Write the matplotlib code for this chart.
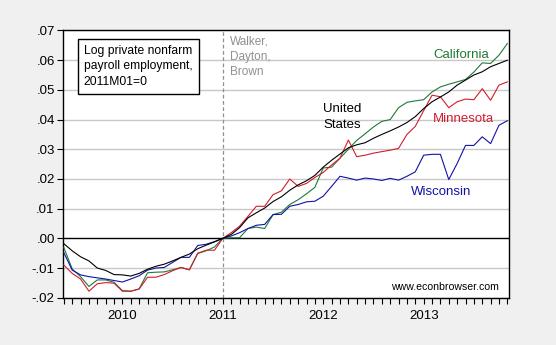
import numpy as np
import matplotlib
matplotlib.use("Agg")
import matplotlib.pyplot as plt

plt.rcParams['font.family'] = ['Liberation Sans', 'DejaVu Sans']

# months relative to 2011M01 (2009M06 .. 2013M11)
months = np.arange(-19, 35)

us = [-0.0018, -0.0042, -0.0062, -0.0076, -0.0100, -0.0108, -0.0122, -0.0123, -0.0127, -0.0118,
      -0.0104, -0.0094, -0.0087, -0.0076, -0.0064, -0.0053, -0.0035, -0.0023, -0.0012, 0.0,
      0.0013, 0.0036, 0.0069, 0.0086, 0.0102, 0.0124, 0.0140, 0.0162, 0.0180, 0.0194,
      0.0212, 0.0240, 0.0263, 0.0284, 0.0305, 0.0315, 0.0322, 0.0337, 0.0350, 0.0362,
      0.0375, 0.0390, 0.0410, 0.0437, 0.0460, 0.0476, 0.0493, 0.0516, 0.0533, 0.0550,
      0.0561, 0.0578, 0.0589, 0.0600]

wi = [-0.0048, -0.0107, -0.0123, -0.0129, -0.0133, -0.0137, -0.0142, -0.0147, -0.0137, -0.0126,
      -0.0107, -0.0100, -0.0098, -0.0081, -0.0064, -0.0064, -0.0024, -0.0020, -0.0011, 0.0,
      0.0008, 0.0019, 0.0033, 0.0044, 0.0047, 0.0080, 0.0081, 0.0108, 0.0114, 0.0123,
      0.0125, 0.0142, 0.0175, 0.0209, 0.0203, 0.0196, 0.0203, 0.0200, 0.0195, 0.0202,
      0.0196, 0.0209, 0.0224, 0.0280, 0.0283, 0.0283, 0.0198, 0.0252, 0.0313, 0.0313,
      0.0342, 0.0319, 0.0381, 0.0396]

ca = [-0.0031, -0.0103, -0.0129, -0.0162, -0.0140, -0.0140, -0.0148, -0.0176, -0.0178, -0.0170,
      -0.0116, -0.0114, -0.0113, -0.0106, -0.0098, -0.0106, -0.0051, -0.0042, -0.0029, 0.0,
      0.0002, 0.0002, 0.0033, 0.0038, 0.0033, 0.0080, 0.0088, 0.0114, 0.0130, 0.0150,
      0.0172, 0.0237, 0.0240, 0.0270, 0.0300, 0.0330, 0.0352, 0.0375, 0.0394, 0.0400,
      0.0440, 0.0458, 0.0463, 0.0467, 0.0493, 0.0510, 0.0519, 0.0527, 0.0535, 0.0560,
      0.0591, 0.0589, 0.0617, 0.0656]

mn = [-0.0090, -0.0118, -0.0137, -0.0178, -0.0153, -0.0149, -0.0151, -0.0178, -0.0178, -0.0171,
      -0.0131, -0.0131, -0.0122, -0.0109, -0.0098, -0.0106, -0.0050, -0.0040, -0.0040, 0.0,
      0.0019, 0.0041, 0.0074, 0.0108, 0.0108, 0.0147, 0.0160, 0.0200, 0.0175, 0.0185,
      0.0205, 0.0222, 0.0247, 0.0270, 0.0331, 0.0275, 0.0280, 0.0287, 0.0292, 0.0297,
      0.0303, 0.0350, 0.0377, 0.0430, 0.0482, 0.0477, 0.0440, 0.0460, 0.0469, 0.0467,
      0.0504, 0.0465, 0.0516, 0.0527]

year_ticks = [-12, 0, 12, 24]
year_labels = ['2010', '2011', '2012', '2013']
y_ticks = [-0.02, -0.01, 0.0, 0.01, 0.02, 0.03, 0.04, 0.05, 0.06, 0.07]
y_labels = ['-.02', '-.01', '.00', '.01', '.02', '.03', '.04', '.05', '.06', '.07']

fig = plt.figure(figsize=(5.56, 3.45), dpi=100, facecolor='#f0f0f0')
ax = fig.add_axes([0.1133, 0.137, 0.8022, 0.7746])
ax.set_facecolor('white')

for yv in y_ticks:
    if yv != 0:
        ax.axhline(yv, color='#c8c8c8', lw=1.0, zorder=1)
ax.axhline(0, color='black', lw=1.0, zorder=2)
ax.axvline(0, color='#909090', lw=0.9, ls=(0, (3, 2)), zorder=2)

ax.plot(months, ca, color='#1e7a35', lw=0.8, zorder=3)
ax.plot(months, mn, color='#d41c2c', lw=0.8, zorder=3)
ax.plot(months, wi, color='#1212a8', lw=0.8, zorder=4)
ax.plot(months, us, color='black', lw=0.8, zorder=5)

ax.set_xlim(-19.1, 34.2)
ax.set_ylim(-0.02, 0.07)
ax.set_yticks(y_ticks)
ax.set_yticklabels(y_labels, fontsize=9.5)
ax.set_xticks(year_ticks)
ax.set_xticklabels(year_labels, fontsize=9.5)
ax.set_xticks(months, minor=True)
ax.tick_params(axis='x', which='both', length=4, width=0.8, direction='out', pad=5)
ax.tick_params(axis='y', length=4, width=0.8, direction='out', pad=2)
for s in ax.spines.values():
    s.set_linewidth(1.0)

ax.text(-16.6, 0.0652, 'Log private nonfarm\npayroll employment,\n2011M01=0', fontsize=8.7,
        va='top', ha='left', linespacing=1.4,
        bbox=dict(boxstyle='square,pad=0.5', fc='white', ec='black', lw=1.0))
ax.text(0.8, 0.0682, 'Walker,\nDayton,\nBrown', fontsize=8.5, color='#909090',
        va='top', ha='left', linespacing=1.35)
ax.text(25.2, 0.0618, 'California', fontsize=9.5, color='#1e7a35', va='center', ha='left')
ax.text(12.0, 0.0408, 'United\nStates', fontsize=9.5, color='black', va='center', ha='left',
        linespacing=1.4)
ax.text(25.1, 0.0402, 'Minnesota', fontsize=9.5, color='#d41c2c', va='center', ha='left')
ax.text(22.5, 0.0155, 'Wisconsin', fontsize=9.5, color='#1212a8', va='center', ha='left')
ax.text(33.0, -0.0165, 'www.econbrowser.com', fontsize=7.6, color='black', va='center', ha='right')

fig.savefig('out.png', dpi=100, facecolor=fig.get_facecolor())
